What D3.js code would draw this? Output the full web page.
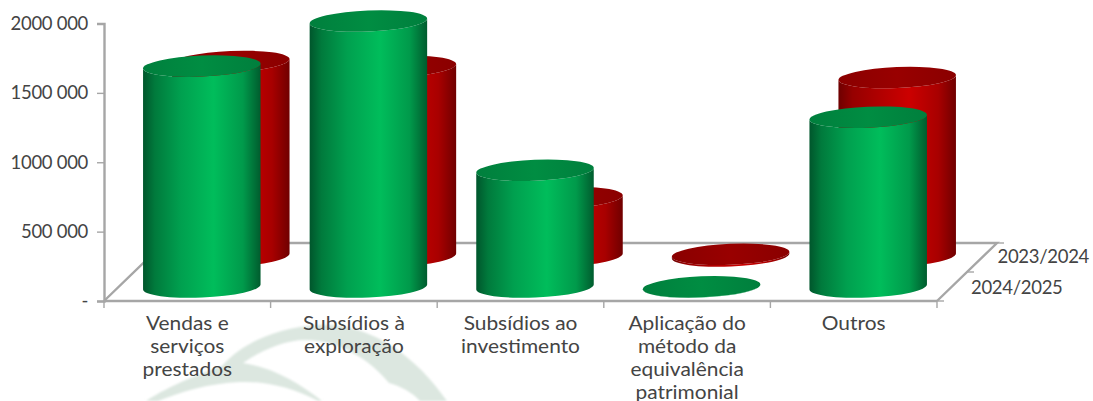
<!DOCTYPE html>
<html lang="pt">
<head>
<meta charset="utf-8">
<title>Rendimentos</title>
<script src="https://cdn.jsdelivr.net/npm/d3@7/dist/d3.min.js"></script>
<style>
  html, body { margin: 0; padding: 0; background: #fff; }
  svg { display: block; }
  text { font-family: Lato, "Open Sans", sans-serif; fill: #444; }
</style>
</head>
<body>
<svg id="chart" width="1093" height="401"></svg>
<script>
// Income by category, two fiscal years (euros)
const categories = [
  ["Vendas e", "serviços", "prestados"],
  ["Subsídios à", "exploração"],
  ["Subsídios ao", "investimento"],
  ["Aplicação do", "método da", "equivalência", "patrimonial"],
  ["Outros"]
];
const seriesNames = ["2023/2024", "2024/2025"];
const values2023 = [1402000, 1366000, 420000, 12000, 1286000];
const values2024 = [1592000, 1917000, 841000, 1000, 1224000];
const yTicks = [0, 500000, 1000000, 1500000, 2000000];

const svg = d3.select("#chart");
const gray = "#a6a6a6";

// Plot frame: front floor edge and the depth of the 3D floor
const plotLeft = 104, plotRight = 937, plotBottom = 301, plotTop = 23.5;
const depthX = 60, depthY = 58;

const x = d3.scaleBand().domain(d3.range(categories.length)).range([plotLeft, plotRight]);
const y = d3.scaleLinear().domain([0, 2000000]).range([plotBottom, plotTop]);
// Position of each series row along the depth axis
const rowX = d3.scaleOrdinal().domain(seriesNames).range([43.5, 14.5]);
const rowY = d3.scaleOrdinal().domain(seriesNames).range([45, 14]);

const fmt = d3.formatLocale({ decimal: ",", thousands: " ", grouping: [3, 10], currency: ["", "€"] }).format(",d");

const defs = svg.append("defs");
defs.append("filter").attr("id", "soft").append("feGaussianBlur").attr("stdDeviation", 1.1);

// Faint leaf emblem behind the category labels
svg.append("path")
  .attr("filter", "url(#soft)")
  .attr("fill", "#dce7e0")
  .attr("d", "M146,401 C170,385 205,372 222,366 C240,345 275,327 320,325 C370,323 415,355 447,401 L420,401 C412,392 400,386 389,383 C370,360 340,340 305,340 C285,340 262,350 243,363 C275,368 300,384 322,401 L318,401 C295,388 265,381 240,382 C210,383 180,392 158,401 Z");

function shade(id, stops) {
  const g = defs.append("linearGradient").attr("id", id).attr("x1", 0).attr("x2", 1).attr("y1", 0).attr("y2", 0);
  stops.forEach(([o, c]) => g.append("stop").attr("offset", o).attr("stop-color", c));
}
shade("bodyGreen", [[0, "#00562c"], [0.1, "#007a3c"], [0.32, "#00a04f"], [0.6, "#00bd5b"], [0.85, "#009a4b"], [1, "#005c2e"]]);
shade("bodyRed", [[0, "#6e0000"], [0.12, "#960000"], [0.35, "#b00000"], [0.6, "#cc0000"], [0.85, "#a80000"], [1, "#700000"]]);
shade("capGreen", [[0, "#007f3d"], [0.5, "#008d42"], [1, "#007f3d"]]);
shade("capRed", [[0, "#8a0000"], [0.5, "#990000"], [1, "#8a0000"]]);

// Floor outline
svg.append("path")
  .attr("fill", "none").attr("stroke", gray).attr("stroke-width", 2.4)
  .attr("d", d3.line()([
    [plotLeft, plotBottom], [plotLeft + depthX, plotBottom - depthY],
    [plotRight + depthX, plotBottom - depthY], [plotRight, plotBottom]
  ]));

// Series row labels and ticks along the right depth edge
const depthAxis = svg.append("g");
d3.range(3).forEach(i => {
  const t = i / 2;
  depthAxis.append("line")
    .attr("x1", plotRight + depthX * t).attr("x2", plotRight + depthX * t + 7)
    .attr("y1", plotBottom - depthY * t).attr("y2", plotBottom - depthY * t)
    .attr("stroke", gray).attr("stroke-width", 1.4);
});
depthAxis.selectAll("text").data(seriesNames).join("text")
  .attr("x", d => plotRight + rowX(d) + (d === seriesNames[0] ? 17 : 19.5))
  .attr("y", d => plotBottom - rowY(d) + 0.6)
  .attr("font-size", 18.5)
  .attr("letter-spacing", -0.3)
  .attr("dy", "0.35em")
  .text(d => d);

// Cylinders: rear series first so the front row overlaps it
const rx = 58.8, ry = 10.5, tilt = -2.4;
const tiltRad = tilt * Math.PI / 180;
const ex = rx * Math.cos(tiltRad), ey = rx * Math.sin(tiltRad);

function cylinder(g, cx, baseY, topY, body, cap) {
  g.append("path")
    .attr("fill", `url(#${body})`)
    .attr("d", `M${cx - ex},${topY - ey} L${cx - ex},${baseY - ey} ` +
               `A${rx},${ry} ${tilt} 0 0 ${cx + ex},${baseY + ey} L${cx + ex},${topY + ey} ` +
               `A${rx},${ry} ${tilt} 0 1 ${cx - ex},${topY - ey} Z`);
  g.append("ellipse")
    .attr("rx", rx).attr("ry", ry)
    .attr("transform", `translate(${cx},${topY}) rotate(${tilt})`)
    .attr("fill", `url(#${cap})`);
}

const rows = [
  { name: seriesNames[0], values: values2023, body: "bodyRed", cap: "capRed" },
  { name: seriesNames[1], values: values2024, body: "bodyGreen", cap: "capGreen" }
];
rows.forEach(row => {
  const g = svg.append("g").attr("class", "series");
  row.values.forEach((v, i) => {
    const cx = x(i) + x.bandwidth() / 2 + rowX(row.name);
    const baseY = plotBottom - rowY(row.name);
    cylinder(g, cx, baseY, baseY - (plotBottom - y(v)), row.body, row.cap);
  });
});

// Value axis
const yAxis = svg.append("g").attr("transform", `translate(${plotLeft},0)`)
  .call(d3.axisLeft(y).tickValues(yTicks).tickSize(7).tickPadding(9)
    .tickFormat(d => d === 0 ? "-" : fmt(d)));
yAxis.selectAll("line").attr("stroke", gray).attr("stroke-width", 1.4);
yAxis.select(".domain").attr("stroke", gray).attr("stroke-width", 2.4);
yAxis.selectAll("text")
  .attr("font-size", 18.5).attr("font-family", "Lato").attr("fill", "#444")
  .attr("letter-spacing", -0.3);

// Category axis with wrapped labels; the face is widened to a geometric proportion
const catAxis = svg.append("g");
catAxis.append("line").attr("x1", plotLeft).attr("x2", plotRight).attr("y1", plotBottom).attr("y2", plotBottom)
  .attr("stroke", gray).attr("stroke-width", 2.4);
d3.range(categories.length + 1).forEach(i => {
  const px = plotLeft + i * x.step();
  catAxis.append("line").attr("x1", px).attr("x2", px).attr("y1", plotBottom).attr("y2", plotBottom + 7)
    .attr("stroke", gray).attr("stroke-width", 1.4);
});
categories.forEach((lines, i) => {
  const t = catAxis.append("text")
    .attr("text-anchor", "middle")
    .attr("font-size", 19)
    .attr("transform", `translate(${x(i) + x.bandwidth() / 2},0) scale(1.1,1)`);
  lines.forEach((line, j) => {
    t.append("tspan")
      .attr("x", 0)
      .attr("y", 330.5 + j * 23)
      .text(line);
  });
});
</script>
</body>
</html>
